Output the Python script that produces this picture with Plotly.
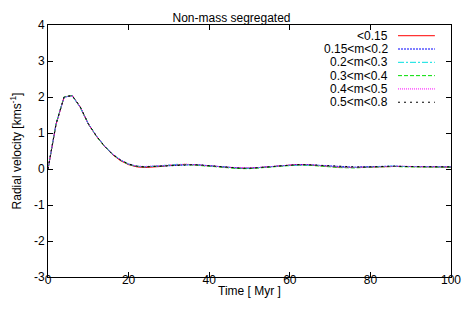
import plotly.graph_objects as go

time = [0, 2, 4, 6, 8, 10, 12, 14, 16, 18, 20, 22, 24, 26, 28, 30, 32, 34, 36, 38, 40,
        42, 44, 46, 48, 50, 52, 54, 56, 58, 60, 62, 64, 66, 68, 70, 72, 74, 76, 78, 80,
        82, 84, 86, 88, 90, 92, 94, 96, 98, 100]

series_names = ["<0.15", "0.15<m<0.2", "0.2<m<0.3", "0.3<m<0.4", "0.4<m<0.5", "0.5<m<0.8"]

v_m1 = [0, 1.24, 2.00, 2.04, 1.72, 1.25, 0.91, 0.63, 0.40, 0.23, 0.12, 0.06, 0.04, 0.05, 0.07, 0.10, 0.12, 0.13, 0.12, 0.11, 0.09,
        0.07, 0.05, 0.03, 0.02, 0.02, 0.03, 0.05, 0.07, 0.09, 0.11, 0.12, 0.12, 0.11, 0.09, 0.07, 0.05, 0.04, 0.04, 0.05, 0.06,
        0.07, 0.07, 0.07, 0.07, 0.06, 0.06, 0.06, 0.06, 0.05, 0.05]
v_m2 = [0, 1.25, 2.00, 2.04, 1.72, 1.26, 0.92, 0.64, 0.41, 0.25, 0.13, 0.07, 0.06, 0.07, 0.09, 0.11, 0.12, 0.13, 0.12, 0.11, 0.09,
        0.07, 0.05, 0.03, 0.02, 0.02, 0.03, 0.05, 0.07, 0.09, 0.11, 0.12, 0.12, 0.11, 0.10, 0.08, 0.06, 0.05, 0.05, 0.06, 0.07,
        0.08, 0.08, 0.08, 0.07, 0.07, 0.07, 0.06, 0.06, 0.06, 0.06]
v_m3 = [0, 1.26, 2.00, 2.03, 1.71, 1.25, 0.92, 0.64, 0.42, 0.25, 0.14, 0.08, 0.06, 0.07, 0.09, 0.11, 0.13, 0.13, 0.12, 0.10, 0.08,
        0.06, 0.04, 0.03, 0.02, 0.02, 0.03, 0.05, 0.07, 0.09, 0.10, 0.11, 0.12, 0.11, 0.09, 0.07, 0.05, 0.04, 0.04, 0.05, 0.06,
        0.07, 0.08, 0.08, 0.07, 0.07, 0.06, 0.06, 0.06, 0.06, 0.06]
v_m4 = [0, 1.25, 2.01, 2.04, 1.72, 1.25, 0.91, 0.63, 0.41, 0.24, 0.13, 0.07, 0.06, 0.07, 0.08, 0.10, 0.12, 0.12, 0.11, 0.10, 0.08,
        0.06, 0.04, 0.02, 0.01, 0.01, 0.02, 0.04, 0.06, 0.08, 0.10, 0.11, 0.11, 0.10, 0.08, 0.06, 0.04, 0.03, 0.03, 0.04, 0.05,
        0.06, 0.07, 0.07, 0.06, 0.06, 0.05, 0.05, 0.05, 0.05, 0.05]
v_m5 = [0, 1.24, 2.00, 2.03, 1.72, 1.25, 0.92, 0.64, 0.42, 0.25, 0.14, 0.08, 0.07, 0.08, 0.10, 0.12, 0.13, 0.13, 0.12, 0.11, 0.09,
        0.07, 0.05, 0.04, 0.03, 0.03, 0.04, 0.05, 0.07, 0.09, 0.11, 0.12, 0.12, 0.11, 0.09, 0.07, 0.05, 0.04, 0.04, 0.05, 0.06,
        0.07, 0.08, 0.08, 0.08, 0.07, 0.07, 0.06, 0.06, 0.06, 0.06]
v_m6 = [0, 1.25, 2.00, 2.04, 1.73, 1.26, 0.92, 0.64, 0.41, 0.25, 0.14, 0.08, 0.06, 0.07, 0.09, 0.11, 0.12, 0.13, 0.12, 0.11, 0.09,
        0.07, 0.05, 0.03, 0.02, 0.02, 0.03, 0.05, 0.07, 0.09, 0.11, 0.12, 0.12, 0.11, 0.09, 0.07, 0.06, 0.05, 0.05, 0.05, 0.06,
        0.07, 0.08, 0.08, 0.07, 0.07, 0.06, 0.06, 0.06, 0.06, 0.06]

series_values = [v_m1, v_m2, v_m3, v_m4, v_m5, v_m6]
colors = ["#ff0000", "#0000ff", "#00e0e0", "#00dd00", "#ff00ff", "#000000"]
dashes = ["solid", "2px,1px", "6px,2px,2px,2px", "4px,2px", "1px,1px", "2px,4px"]

x_ticks = [0, 20, 40, 60, 80, 100]
y_ticks = [-3, -2, -1, 0, 1, 2, 3, 4]

FONT = "Liberation Sans, Arial, sans-serif"

fig = go.Figure()
for name, vals, c, d in zip(series_names, series_values, colors, dashes):
    fig.add_trace(go.Scatter(x=time, y=vals, mode="lines", name=name,
                             line=dict(color=c, width=1, dash=d), showlegend=False))

# gnuplot-style legend: right-aligned text with sample line on its right
row0 = 0.9575
step = 0.0528
for i, (name, c, d) in enumerate(zip(series_names, colors, dashes)):
    y = row0 - i * step
    fig.add_annotation(x=0.849, y=y, xref="paper", yref="paper", text=name,
                       showarrow=False, xanchor="right", yanchor="middle",
                       font=dict(family=FONT, size=12, color="black"))
    fig.add_shape(type="line", xref="paper", yref="paper", x0=0.8685, x1=0.96, y0=y, y1=y,
                  line=dict(color=c, width=1, dash=d))

axis_common = dict(showline=True, mirror="ticks", linecolor="black", linewidth=1,
                   ticks="inside", ticklen=5, tickcolor="black", showgrid=False, zeroline=False,
                   automargin=False,
                   tickfont=dict(family=FONT, size=12, color="black"))

fig.update_xaxes(range=[0, 100], tickvals=x_ticks, ticktext=[str(v) for v in x_ticks],
                 ticklabelstandoff=-8,
                 title=dict(text="Time [ Myr ]", standoff=0,
                            font=dict(family=FONT, size=12, color="black")),
                 **axis_common)
fig.update_yaxes(range=[-3, 4], tickvals=y_ticks, ticktext=[str(v) for v in y_ticks],
                 title=dict(text="Radial velocity [kms<sup>-1</sup>]", standoff=9,
                            font=dict(family=FONT, size=12, color="black")),
                 **axis_common)

fig.update_layout(
    width=463, height=317,
    margin=dict(l=48, r=12, t=25, b=40, autoexpand=False),
    paper_bgcolor="white", plot_bgcolor="white",
    title=dict(text="Non-mass segregated", x=0.5, xanchor="center", y=0.944, yanchor="middle",
               font=dict(family=FONT, size=12, color="black")),
)

fig.write_html("out.html", config={"displayModeBar": False},
               post_script="document.body.style.margin='0';document.body.style.overflow='hidden';")
